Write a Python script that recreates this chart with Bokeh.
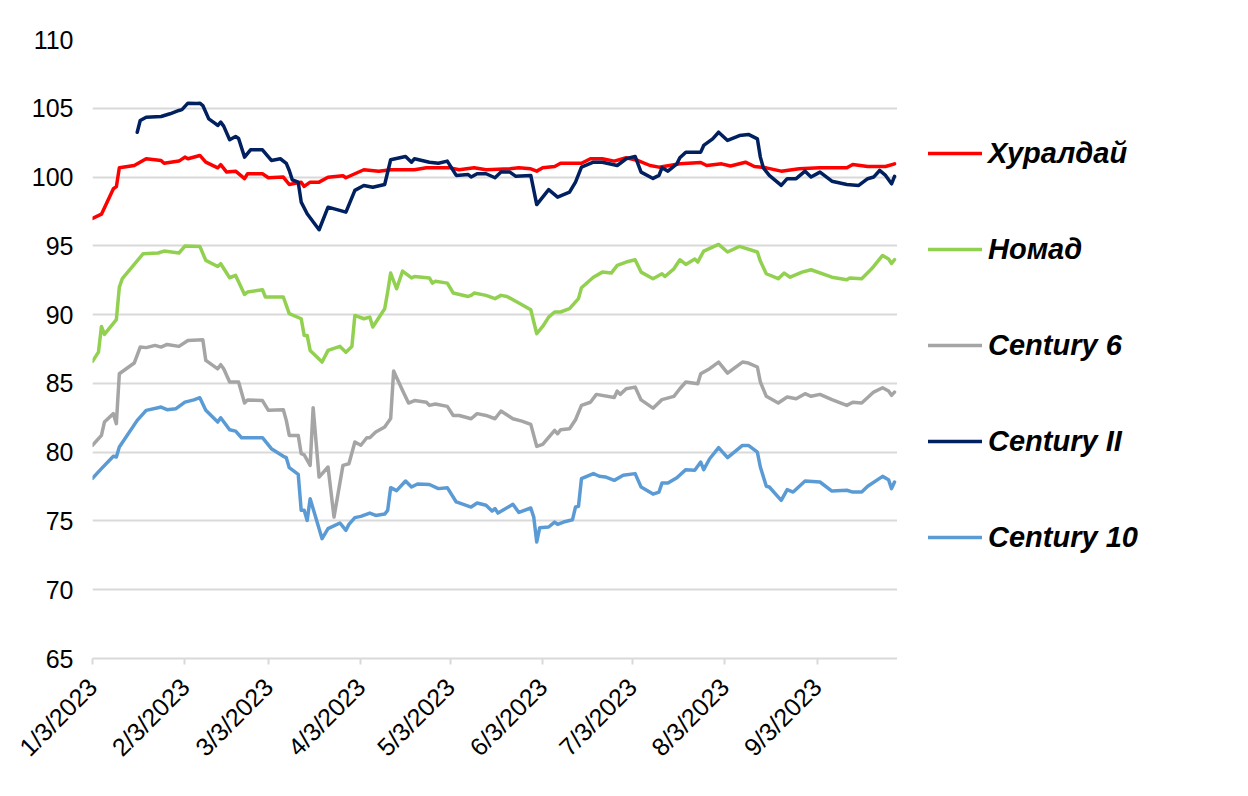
import math
import pandas as pd
from bokeh.plotting import figure
from bokeh.layouts import row
from bokeh.models import (Legend, LegendItem, FixedTicker, CustomJSTickFormatter, Range1d)
from bokeh.embed import file_html
from bokeh.resources import INLINE

# ---------------- data ----------------
tick_dates = ["2023-01-03", "2023-02-03", "2023-03-03", "2023-04-03", "2023-05-03",
              "2023-06-03", "2023-07-03", "2023-08-03", "2023-09-03"]
y_ticks = [65, 70, 75, 80, 85, 90, 95, 100, 105, 110]

khural_dates = ["2023-01-03","2023-01-06","2023-01-10","2023-01-11","2023-01-12","2023-01-17","2023-01-21","2023-01-26","2023-01-27",
                "2023-02-01","2023-02-03","2023-02-04","2023-02-08","2023-02-10","2023-02-14","2023-02-15","2023-02-17","2023-02-20","2023-02-23","2023-02-24",
                "2023-03-01","2023-03-03","2023-03-08","2023-03-10","2023-03-14","2023-03-15","2023-03-17","2023-03-20","2023-03-23","2023-03-28","2023-03-29",
                "2023-04-04","2023-04-09","2023-04-13","2023-04-21","2023-04-25",
                "2023-05-03","2023-05-06","2023-05-11","2023-05-15","2023-05-23","2023-05-26","2023-05-30",
                "2023-06-01","2023-06-03","2023-06-07","2023-06-09","2023-06-16","2023-06-19","2023-06-23","2023-06-27",
                "2023-07-01","2023-07-05","2023-07-09","2023-07-12","2023-07-19","2023-07-26","2023-07-28",
                "2023-08-02","2023-08-05","2023-08-10","2023-08-13","2023-08-17","2023-08-22","2023-08-28",
                "2023-09-04","2023-09-13","2023-09-15","2023-09-20","2023-09-26","2023-09-29"]
khural_vals = [97.0,97.3,99.15,99.3,100.67,100.84,101.33,101.2,101.0,
               101.16,101.45,101.33,101.57,101.08,100.67,100.9,100.36,100.43,99.88,100.24,
               100.24,99.95,100.0,99.46,99.63,99.32,99.63,99.63,99.99,100.1,99.95,
               100.53,100.43,100.53,100.53,100.67,
               100.67,100.53,100.67,100.53,100.6,100.67,100.6,
               100.43,100.67,100.77,101.0,101.0,101.33,101.33,101.16,
               101.4,101.2,100.84,100.72,100.96,101.06,100.84,
               100.96,100.8,101.08,100.77,100.67,100.43,100.6,
               100.67,100.67,100.92,100.77,100.77,100.96]

nomad_dates = ["2023-01-03","2023-01-05","2023-01-06","2023-01-07","2023-01-11","2023-01-12","2023-01-13","2023-01-20","2023-01-25","2023-01-27",
               "2023-02-01","2023-02-03","2023-02-08","2023-02-10","2023-02-14","2023-02-15","2023-02-18","2023-02-20","2023-02-23","2023-02-24",
               "2023-03-01","2023-03-02","2023-03-08","2023-03-10","2023-03-14","2023-03-15","2023-03-16","2023-03-17","2023-03-21","2023-03-23","2023-03-27","2023-03-29","2023-03-31",
               "2023-04-01","2023-04-04","2023-04-06","2023-04-07","2023-04-11","2023-04-12","2023-04-13","2023-04-15","2023-04-17","2023-04-20","2023-04-21","2023-04-26","2023-04-27","2023-04-28",
               "2023-05-02","2023-05-04","2023-05-09","2023-05-10","2023-05-11","2023-05-15","2023-05-18","2023-05-20","2023-05-22","2023-05-26","2023-05-30",
               "2023-06-01","2023-06-03","2023-06-05","2023-06-07","2023-06-09","2023-06-12","2023-06-15","2023-06-16","2023-06-20","2023-06-23","2023-06-26","2023-06-28",
               "2023-07-01","2023-07-04","2023-07-06","2023-07-10","2023-07-13","2023-07-14","2023-07-17","2023-07-19","2023-07-21","2023-07-24","2023-07-25","2023-07-27",
               "2023-08-01","2023-08-04","2023-08-08","2023-08-14","2023-08-15","2023-08-17","2023-08-21","2023-08-23","2023-08-25","2023-08-29",
               "2023-09-01","2023-09-08","2023-09-13","2023-09-14","2023-09-18","2023-09-21","2023-09-22","2023-09-25","2023-09-27","2023-09-28","2023-09-29"]
nomad_vals = [86.6,87.27,89.14,88.56,89.63,92.0,92.61,94.43,94.48,94.62,
              94.48,94.98,94.96,93.94,93.5,93.7,92.68,92.85,91.47,91.64,
              91.81,91.28,91.28,90.07,89.7,88.49,88.49,87.4,86.55,87.4,87.69,87.27,87.69,
              89.94,89.7,89.82,89.1,90.43,91.64,93.02,91.88,93.16,92.67,92.77,92.67,92.29,92.43,
              92.29,91.57,91.32,91.4,91.57,91.4,91.16,91.4,91.32,90.84,90.35,
              88.61,89.14,89.82,90.19,90.19,90.43,91.16,91.95,92.72,93.09,93.02,93.58,
              93.82,93.99,93.09,92.61,92.97,92.77,93.33,93.99,93.65,94.04,93.82,94.62,
              95.1,94.55,94.96,94.55,93.89,92.97,92.61,93.02,92.72,93.09,
              93.26,92.72,92.53,92.67,92.61,93.26,93.5,94.3,94.04,93.72,93.99]

c6_dates = ["2023-01-03","2023-01-06","2023-01-07","2023-01-10","2023-01-11","2023-01-12","2023-01-17","2023-01-19","2023-01-21","2023-01-24","2023-01-26","2023-01-28",
            "2023-02-01","2023-02-04","2023-02-09","2023-02-10","2023-02-14","2023-02-15","2023-02-16","2023-02-18","2023-02-21","2023-02-23","2023-02-24",
            "2023-03-01","2023-03-03","2023-03-08","2023-03-09","2023-03-10","2023-03-13","2023-03-14","2023-03-15","2023-03-17","2023-03-18","2023-03-20","2023-03-23","2023-03-25","2023-03-28","2023-03-30",
            "2023-04-01","2023-04-03","2023-04-05","2023-04-06","2023-04-08","2023-04-11","2023-04-13","2023-04-14","2023-04-17","2023-04-19","2023-04-21","2023-04-25","2023-04-26","2023-04-28",
            "2023-05-02","2023-05-04","2023-05-06","2023-05-10","2023-05-12","2023-05-15","2023-05-18","2023-05-20","2023-05-24","2023-05-27","2023-05-30",
            "2023-06-01","2023-06-03","2023-06-07","2023-06-08","2023-06-09","2023-06-12","2023-06-14","2023-06-16","2023-06-19","2023-06-21","2023-06-27","2023-06-28","2023-06-29",
            "2023-07-01","2023-07-04","2023-07-06","2023-07-10","2023-07-13","2023-07-17","2023-07-19","2023-07-21","2023-07-25","2023-07-26","2023-07-29",
            "2023-08-01","2023-08-04","2023-08-09","2023-08-11","2023-08-14","2023-08-15","2023-08-17","2023-08-21","2023-08-24","2023-08-27","2023-08-30",
            "2023-09-01","2023-09-04","2023-09-08","2023-09-13","2023-09-15","2023-09-18","2023-09-22","2023-09-25","2023-09-27","2023-09-28","2023-09-29"]
c6_vals = [80.5,81.22,82.19,82.8,82.07,85.7,86.48,87.64,87.6,87.76,87.64,87.83,
           87.69,88.12,88.17,86.67,86.06,86.36,86.06,85.1,85.1,83.57,83.8,
           83.75,83.04,83.09,82.31,81.22,81.22,79.89,79.8,79.04,83.23,78.19,78.92,75.28,79.04,79.16,
           80.74,80.5,81.05,81.05,81.46,81.83,82.44,85.9,84.49,83.57,83.75,83.63,83.4,83.5,
           83.33,82.67,82.67,82.43,82.8,82.67,82.43,82.99,82.43,82.26,82.02,
           80.42,80.57,81.58,81.34,81.63,81.7,82.36,83.4,83.63,84.2,83.97,84.44,84.2,
           84.61,84.73,83.8,83.2,83.82,84.06,84.61,85.1,84.98,85.7,86.07,
           86.55,85.75,86.55,86.48,86.19,85.1,84.06,83.57,84.01,83.89,84.25,
           84.06,84.2,83.82,83.4,83.63,83.57,84.37,84.68,84.44,84.13,84.37]

c2_dates = ["2023-01-18","2023-01-19","2023-01-21","2023-01-26","2023-01-29",
            "2023-02-01","2023-02-02","2023-02-04","2023-02-07","2023-02-08","2023-02-09","2023-02-11","2023-02-13","2023-02-14","2023-02-15","2023-02-16","2023-02-18","2023-02-20","2023-02-21","2023-02-23","2023-02-25",
            "2023-03-01","2023-03-04","2023-03-07","2023-03-09","2023-03-10","2023-03-11","2023-03-13","2023-03-14","2023-03-16","2023-03-20","2023-03-23","2023-03-29",
            "2023-04-01","2023-04-04","2023-04-07","2023-04-11","2023-04-13","2023-04-18","2023-04-20","2023-04-21","2023-04-26","2023-04-29",
            "2023-05-02","2023-05-05","2023-05-09","2023-05-10","2023-05-12","2023-05-15","2023-05-18","2023-05-20","2023-05-23","2023-05-25","2023-05-30",
            "2023-06-01","2023-06-05","2023-06-08","2023-06-12","2023-06-14","2023-06-16","2023-06-20","2023-06-23","2023-06-28",
            "2023-07-01","2023-07-04","2023-07-06","2023-07-10","2023-07-12","2023-07-13","2023-07-15","2023-07-18","2023-07-19","2023-07-21","2023-07-26","2023-07-27","2023-07-30",
            "2023-08-01","2023-08-04","2023-08-08","2023-08-11","2023-08-14","2023-08-15","2023-08-16","2023-08-18","2023-08-22","2023-08-24","2023-08-27","2023-08-30",
            "2023-09-01","2023-09-04","2023-09-08","2023-09-13","2023-09-17","2023-09-20","2023-09-22","2023-09-24","2023-09-26","2023-09-28","2023-09-29"]
c2_vals = [103.26,104.11,104.35,104.4,104.6,
           104.84,104.9,105.37,105.35,105.37,105.2,104.23,103.92,103.75,103.99,103.7,102.71,102.95,102.8,101.45,101.98,
           101.98,101.21,101.33,101.0,100.48,99.8,99.63,98.18,97.33,96.17,97.81,97.45,
           99.03,99.39,99.26,99.46,101.26,101.5,101.08,101.33,101.08,101.0,
           101.16,100.12,100.19,100.0,100.24,100.24,99.95,100.36,100.36,100.05,100.12,
           98.0,99.08,98.54,98.9,99.63,100.72,101.08,101.08,100.84,
           101.33,101.5,100.36,99.9,100.12,100.67,100.43,100.96,101.4,101.81,101.81,102.3,102.78,
           103.26,102.66,103.02,103.1,102.78,101.45,100.67,100.12,99.39,99.88,99.88,100.43,
           100.0,100.36,99.7,99.46,99.39,99.88,100.0,100.48,100.12,99.51,100.05]

c10_dates = ["2023-01-03","2023-01-06","2023-01-10","2023-01-11","2023-01-12","2023-01-18","2023-01-21","2023-01-25","2023-01-26","2023-01-28","2023-01-31",
             "2023-02-03","2023-02-06","2023-02-08","2023-02-10","2023-02-14","2023-02-15","2023-02-18","2023-02-20","2023-02-22",
             "2023-03-01","2023-03-04","2023-03-08","2023-03-09","2023-03-10","2023-03-13","2023-03-14","2023-03-15","2023-03-16","2023-03-17","2023-03-21","2023-03-23","2023-03-27","2023-03-29","2023-03-30",
             "2023-04-01","2023-04-03","2023-04-06","2023-04-08","2023-04-11","2023-04-12","2023-04-13","2023-04-15","2023-04-18","2023-04-20","2023-04-22","2023-04-26","2023-04-29",
             "2023-05-02","2023-05-05","2023-05-10","2023-05-12","2023-05-15","2023-05-17","2023-05-18","2023-05-19","2023-05-24","2023-05-26","2023-05-30","2023-05-31",
             "2023-06-01","2023-06-02","2023-06-05","2023-06-07","2023-06-08","2023-06-10","2023-06-13","2023-06-14","2023-06-15","2023-06-16","2023-06-20","2023-06-22","2023-06-24","2023-06-27","2023-06-30",
             "2023-07-04","2023-07-06","2023-07-10","2023-07-12","2023-07-13","2023-07-15","2023-07-18","2023-07-21","2023-07-24","2023-07-26","2023-07-27","2023-07-29",
             "2023-08-01","2023-08-04","2023-08-09","2023-08-11","2023-08-14","2023-08-15","2023-08-17","2023-08-18","2023-08-22","2023-08-24","2023-08-26","2023-08-30",
             "2023-09-04","2023-09-08","2023-09-13","2023-09-15","2023-09-18","2023-09-20","2023-09-25","2023-09-27","2023-09-28","2023-09-29"]
c10_vals = [78.1,78.8,79.7,79.65,80.37,82.31,83.04,83.23,83.28,83.09,83.16,
            83.64,83.8,83.96,83.04,82.19,82.5,81.63,81.53,81.05,
            81.05,80.25,79.7,79.6,78.87,78.39,75.77,75.77,75.04,76.62,73.71,74.44,74.85,74.32,74.75,
            75.24,75.33,75.57,75.4,75.5,75.77,77.42,77.2,77.9,77.47,77.69,77.65,77.35,
            77.42,76.38,76.01,76.3,76.14,75.72,75.9,75.57,76.21,75.62,75.94,75.28,
            73.47,74.51,74.56,74.92,74.75,74.92,75.09,76.01,76.06,78.07,78.44,78.25,78.2,77.95,78.32,
            78.44,77.47,76.95,77.1,77.75,77.75,78.14,78.73,78.68,79.28,78.73,79.52,
            80.33,79.6,80.49,80.49,80.0,78.92,77.52,77.47,76.5,77.28,77.1,77.9,
            77.83,77.17,77.23,77.1,77.1,77.52,78.24,78.0,77.35,77.83]

series_names = ["Хуралдай", "Номад", "Century 6", "Century II", "Century 10"]
series_colors = ["#ff0000", "#92d050", "#a5a5a5", "#002060", "#5b9bd5"]
series_dates = [khural_dates, nomad_dates, c6_dates, c2_dates, c10_dates]
series_vals = [khural_vals, nomad_vals, c6_vals, c2_vals, c10_vals]

x_start, x_end = "2023-01-03", "2023-09-30"

# ---------------- main chart ----------------
FONT = "Liberation Sans"
H = 790
W_MAIN, W_LEG = 897, 343
p = figure(width=W_MAIN, height=H, x_axis_type="datetime",
           x_range=Range1d(pd.Timestamp(x_start), pd.Timestamp(x_end)),
           y_range=Range1d(65, 110),
           output_backend="svg", toolbar_location=None,
           min_border_left=92, min_border_top=39, min_border_right=0, min_border_bottom=132)
p.outline_line_color = None
p.background_fill_color = "white"
p.border_fill_color = "white"

for col, d, v in zip(series_colors, series_dates, series_vals):
    p.line(x=pd.to_datetime(d), y=v, line_color=col, line_width=3.5,
           line_join="round", line_cap="round")

tick_ms = [pd.Timestamp(t).value // 10**6 for t in tick_dates]
p.xaxis.ticker = FixedTicker(ticks=tick_ms, minor_ticks=[])
p.xaxis.formatter = CustomJSTickFormatter(code="""
const d = new Date(tick);
return (d.getUTCMonth()+1) + '/' + d.getUTCDate() + '/' + d.getUTCFullYear();
""")
p.xaxis.major_label_orientation = math.pi / 4
p.xaxis.axis_line_color = "#d9d9d9"
p.xaxis.axis_line_width = 2
p.xaxis.major_tick_line_color = "#d9d9d9"
p.xaxis.major_tick_line_width = 2
p.xaxis.major_tick_out = 6
p.xaxis.major_tick_in = 0
p.xaxis.minor_tick_line_color = None
p.xaxis.major_label_standoff = 18
p.xaxis.major_label_text_font = FONT
p.xaxis.major_label_text_font_size = "25px"
p.xaxis.major_label_text_color = "#000000"

p.yaxis.ticker = FixedTicker(ticks=y_ticks, minor_ticks=[])
p.yaxis.axis_line_color = None
p.yaxis.major_tick_line_color = None
p.yaxis.minor_tick_line_color = None
p.yaxis.major_tick_out = 0
p.yaxis.major_label_standoff = 19
p.yaxis.major_label_text_font = FONT
p.yaxis.major_label_text_font_size = "25px"
p.yaxis.major_label_text_color = "#000000"

p.xgrid.visible = False
p.ygrid.grid_line_color = "#d9d9d9"
p.ygrid.grid_line_width = 2

# ---------------- legend panel (key swatches only; NaN so nothing is plotted) ----------------
q = figure(width=W_LEG, height=H, output_backend="svg", toolbar_location=None,
           x_range=Range1d(0, 1), y_range=Range1d(0, 1),
           x_axis_location=None, y_axis_location=None,
           min_border_left=0, min_border_right=0, min_border_top=0, min_border_bottom=0)
q.outline_line_color = None
q.grid.visible = False
q.background_fill_color = "white"
q.border_fill_color = "white"
nan = float("nan")
swatches = [q.line(x=[nan], y=[nan], line_color=c, line_width=3.5, line_cap="round")
            for c in series_colors]

legend = Legend(items=[LegendItem(label=n, renderers=[r]) for n, r in zip(series_names, swatches)],
                location=(31, 103))
legend.background_fill_alpha = 0
legend.border_line_color = None
legend.margin = 0
legend.padding = 0
legend.glyph_width = 54
legend.glyph_height = 36
legend.label_height = 36
legend.spacing = 60
legend.label_standoff = 6
legend.label_text_font = FONT
legend.label_text_font_style = "bold italic"
legend.label_text_font_size = "29px"
legend.label_text_color = "#000000"
q.add_layout(legend, "center")

layout = row(p, q, spacing=0)
open("out.html", "w").write(file_html(layout, INLINE))
